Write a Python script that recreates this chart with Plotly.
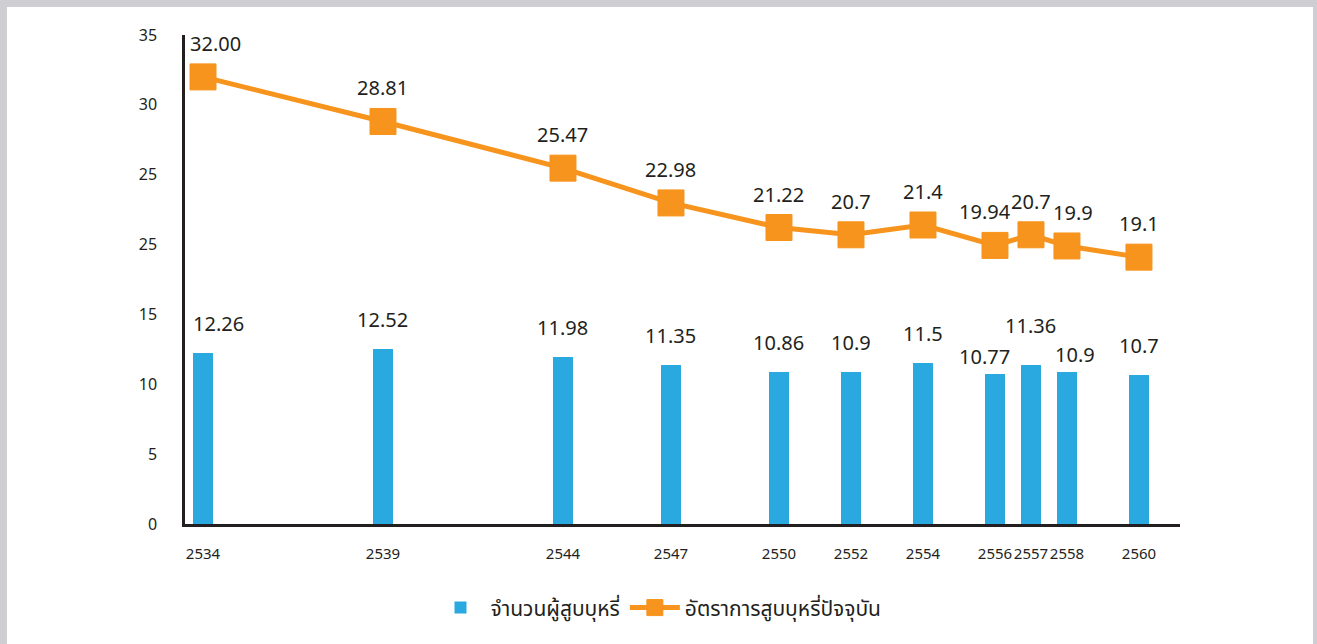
import plotly.graph_objects as go

years = [2534, 2539, 2544, 2547, 2550, 2552, 2554, 2556, 2557, 2558, 2560]
smokers = [12.26, 12.52, 11.98, 11.35, 10.86, 10.9, 11.5, 10.77, 11.36, 10.9, 10.7]
smokers_labels = ["12.26", "12.52", "11.98", "11.35", "10.86", "10.9", "11.5", "10.77", "11.36", "10.9", "10.7"]
rate = [32.00, 28.81, 25.47, 22.98, 21.22, 20.7, 21.4, 19.94, 20.7, 19.9, 19.1]
rate_labels = ["32.00", "28.81", "25.47", "22.98", "21.22", "20.7", "21.4", "19.94", "20.7", "19.9", "19.1"]
y_tickvals = [0, 5, 10, 15, 20, 25, 30, 35]
y_ticktext = ["0", "5", "10", "15", "25", "25", "30", "35"]
series_names = ["จำนวนผู้สูบบุหรี่", "อัตราการสูบบุหรี่ปัจจุบัน"]

# label offsets (styling only) to keep labels readable where points are close
bar_label_dx = [15, 0, 0, 0, 0, 0, 0, -10, 0, 8, 0]
bar_label_dy = [14, 14, 14, 14, 14, 14, 14, 2, 24, 2, 14]
line_label_dx = [12, 0, 0, 0, 0, 0, 0, -10, 0, 6, 0]
line_label_dy = [18, 18, 18, 18, 18, 18, 18, 18, 18, 18, 18]

BLUE = "#29a9e0"
ORANGE = "#f7941d"
TEXT = "#231f20"
NUM_FONT = "Noto Sans, DejaVu Sans, sans-serif"
THAI_FONT = "Noto Sans Thai, Tahoma, Noto Sans, sans-serif"

fig = go.Figure()
fig.add_trace(go.Bar(
    x=years, y=smokers, name=series_names[0],
    marker=dict(color=BLUE, line=dict(width=0)),
    width=0.58,
))
fig.add_trace(go.Scatter(
    x=years, y=rate, name=series_names[1], mode="lines+markers",
    line=dict(color=ORANGE, width=5),
    marker=dict(symbol="square", size=26, color=ORANGE, line=dict(color=ORANGE, width=1)),
    cliponaxis=False,
))

annotations = []
for x, y, t, dx, dy in zip(years, smokers, smokers_labels, bar_label_dx, bar_label_dy):
    annotations.append(dict(x=x, y=y, text=t, showarrow=False, yanchor="bottom",
                            xshift=dx, yshift=dy,
                            font=dict(family=NUM_FONT, size=20, color=TEXT)))
for x, y, t, dx, dy in zip(years, rate, rate_labels, line_label_dx, line_label_dy):
    annotations.append(dict(x=x, y=y, text=t, showarrow=False, yanchor="bottom",
                            xshift=dx, yshift=dy,
                            font=dict(family=NUM_FONT, size=20, color=TEXT)))

fig.update_layout(
    width=1317, height=644,
    margin=dict(l=185, r=137, t=35, b=120),
    paper_bgcolor="#cfcfd3",
    plot_bgcolor="rgba(0,0,0,0)",
    showlegend=True,
    legend=dict(orientation="h", xref="container", yref="container", x=0.5, xanchor="center",
                y=0.056, yanchor="middle", font=dict(family=THAI_FONT, size=21, color=TEXT),
                itemwidth=50, traceorder="normal", bgcolor="rgba(0,0,0,0)"),
    annotations=annotations,
    bargap=0,
    xaxis=dict(
        range=[2533.5, 2561.14], tickvals=years, ticktext=[str(y) for y in years],
        showgrid=False, zeroline=False, showline=True, linecolor=TEXT, linewidth=2.5,
        ticks="", ticklabelstandoff=14, tickangle=0,
        tickfont=dict(family=NUM_FONT, size=15, color=TEXT),
    ),
    yaxis=dict(
        range=[0, 35], tickvals=y_tickvals, ticktext=y_ticktext,
        showgrid=False, zeroline=False, showline=True, linecolor=TEXT, linewidth=2.5,
        ticks="", ticklabelstandoff=22,
        tickfont=dict(family=NUM_FONT, size=16, color=TEXT),
    ),
    shapes=[dict(type="rect", xref="paper", yref="paper", layer="below",
                 x0=(7 - 185) / 995, x1=(1313 - 185) / 995,
                 y0=-0.4, y1=(524 - 7) / 489,
                 fillcolor="white", line=dict(width=0))],
)

fig.write_html("out.html")
